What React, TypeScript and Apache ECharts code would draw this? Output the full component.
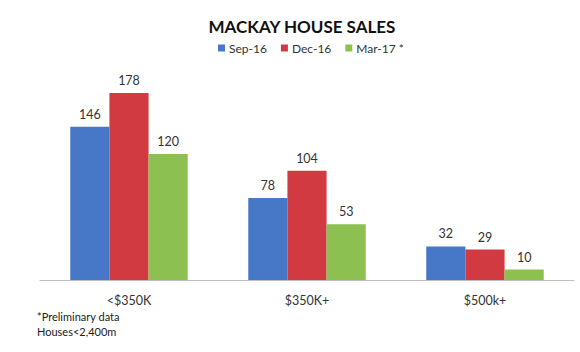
import React, { useEffect, useRef } from "react";
import * as echarts from "echarts";

const categories = ["<$350K", "$350K+", "$500k+"];
const seriesNames = ["Sep-16", "Dec-16", "Mar-17 *"];
const sep16 = [146, 78, 32];
const dec16 = [178, 104, 29];
const mar17 = [120, 53, 10];
const colors = ["#4777c7", "#d13a40", "#8cc152"];
const footnotes = ["*Preliminary data", "Houses<2,400m"];

const FONT = "Lato, 'Open Sans', sans-serif";

export default function App() {
  const ref = useRef<HTMLDivElement>(null);
  useEffect(() => {
    if (!ref.current) return;
    const chart = echarts.init(ref.current, undefined, { renderer: "svg" });
    const values = [sep16, dec16, mar17];
    chart.setOption({
      animation: false,
      backgroundColor: "#ffffff",
      textStyle: { fontFamily: FONT },
      title: {
        text: "MACKAY HOUSE SALES",
        left: 297,
        textAlign: "center",
        top: 13,
        textStyle: { fontFamily: FONT, fontWeight: "bold", fontSize: 17, color: "#111111" },
      },
      legend: {
        left: 213,
        top: 37,
        itemWidth: 7,
        itemHeight: 7,
        itemGap: 14,
        icon: "rect",
        textStyle: { fontFamily: FONT, fontSize: 12, color: "#333333", padding: [0, 0, 0, -1] },
        data: seriesNames,
      },
      grid: { left: 40, right: 6, top: 70, bottom: 72 },
      xAxis: {
        type: "category",
        data: categories,
        axisLine: { lineStyle: { color: "#bfbfbf", width: 1 } },
        axisTick: { show: false },
        axisLabel: { color: "#333333", fontSize: 12.5, fontFamily: FONT, margin: 14 },
      },
      yAxis: {
        type: "value",
        min: 0,
        max: 200,
        show: false,
        splitLine: { show: false },
      },
      series: seriesNames.map((name, i) => ({
        name,
        type: "bar",
        data: values[i],
        barGap: "0%",
        barCategoryGap: "34%",
        itemStyle: { color: colors[i] },
        label: {
          show: true,
          position: "top",
          distance: 6,
          color: "#333333",
          fontSize: 12.5,
          fontFamily: FONT,
        },
      })),
      graphic: footnotes.map((t, i) => ({
        type: "text",
        left: 37,
        top: 311 + i * 15,
        style: { text: t, fontSize: 11, fontFamily: FONT, fill: "#222222" },
      })),
    });
    return () => chart.dispose();
  }, []);
  return (
    <div
      ref={ref}
      style={{ position: "fixed", left: 0, top: 0, width: 580, height: 352 }}
    />
  );
}
